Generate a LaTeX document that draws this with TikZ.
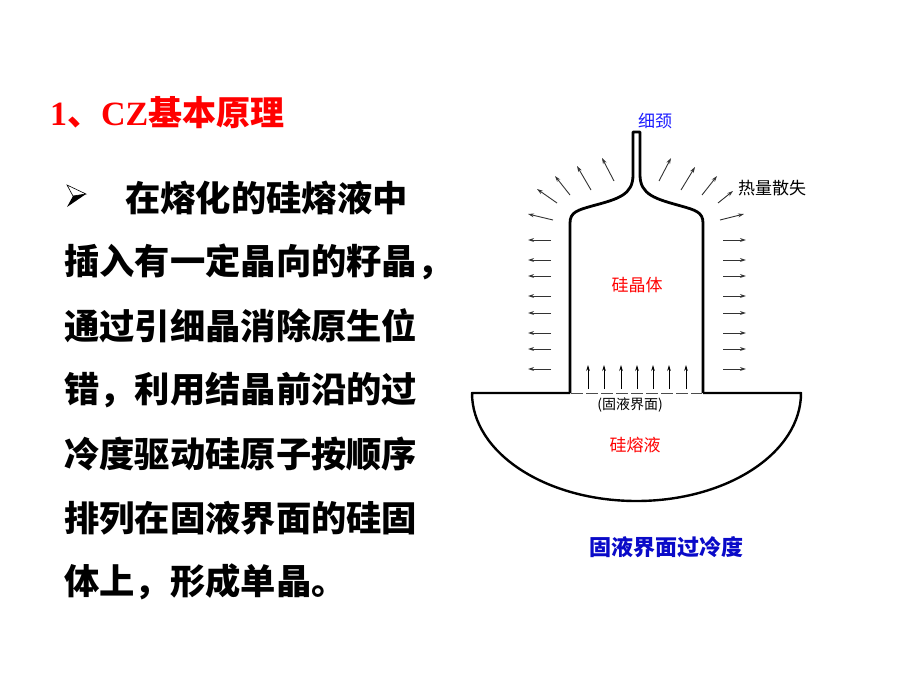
\documentclass[tikz,border=0pt]{standalone}
\usepackage{fontspec}
\setmainfont{Liberation Serif}
\newfontfamily\cjk{Noto Sans CJK SC}
\usetikzlibrary{arrows.meta}
\definecolor{capblue}{RGB}{10,10,200}
\definecolor{labblue}{RGB}{30,30,255}
\begin{document}
\begin{tikzpicture}[x=1pt,y=-1pt,
  bodytext/.style={anchor=west,inner sep=0pt,font=\cjk\bfseries\fontsize{35.3}{35.3}\selectfont,text=black},
  harr/.style={-{Stealth[length=6pt,width=3.8pt]},line width=0.9pt,black!80},
  uarr/.style={-{Stealth[length=6pt,width=3.6pt]},line width=0.9pt,black},
  outline/.style={line width=2.8pt,black,line join=round},
  lab/.style={inner sep=0pt,font=\cjk\fontsize{17}{17}\selectfont}]
\useasboundingbox (0,0) rectangle (920,690);
\fill[white] (0,0) rectangle (920,690);

% title
\node[anchor=west,inner sep=0pt,text=red,font=\bfseries\fontsize{34}{34}\selectfont] (title) at (50,113) {1{\cjk、}CZ{\cjk 基本原理}};

% bullet
\draw[line width=0.6pt,fill=white,line join=miter] (67,185) -- (86,194) -- (73,196) -- cycle;
\fill[black] (86,194) -- (73,196) -- (67,207) -- cycle;

% body text
\node[bodytext] (l1) at (125,198) {在熔化的硅熔液中};
\node[bodytext] (l2) at (64,262) {插入有一定晶向的籽晶，};
\node[bodytext] (l3) at (64,326) {通过引细晶消除原生位};
\node[bodytext] (l4) at (64,390) {错，利用结晶前沿的过};
\node[bodytext] (l5) at (64,454) {冷度驱动硅原子按顺序};
\node[bodytext] (l6) at (64,518) {排列在固液界面的硅固};
\node[bodytext] (l7) at (64,582) {体上，形成单晶。};

% crystal outline
\draw[outline] (570,393) -- (570,223)
  .. controls (570,212) and (578,210) .. (592,206)
  .. controls (618,199) and (633,195) .. (633,175)
  -- (633,132) -- (640,132) -- (640,175)
  .. controls (640,195) and (656,199) .. (681,206)
  .. controls (695,210) and (703,212) .. (703,223)
  -- (703,393);

% melt
\draw[line width=2.4pt,black,line join=round] (570,393) -- (472,393)
  arc[start angle=180,end angle=0,x radius=164.5,y radius=108] -- (703,393);
\draw[line width=0.7pt,black!70,dash pattern=on 12pt off 3pt] (571,393) -- (702,393);

% growth arrows
\foreach \x in {588,604,621,637,653,669,686}
  \draw[uarr] (\x,389) -- (\x,365);

% side arrows
\foreach \y in {240,260,276,296,313,333,349,369} {
  \draw[harr] (551,\y) -- (528,\y);
  \draw[harr] (723,\y) -- (746,\y);
}

% diagonal arrows
\draw[harr] (553,220) -- (528,214);
\draw[harr] (557,203) -- (537,189);
\draw[harr] (570,195) -- (555,176);
\draw[harr] (591,190) -- (577,166);
\draw[harr] (614,181) -- (602,158);
\draw[harr] (659,181) -- (671,158);
\draw[harr] (681,190) -- (695,167);
\draw[harr] (702,195) -- (717,176);
\draw[harr] (718,203) -- (733,191);
\draw[harr] (720,220) -- (744,214);

% labels
\node[lab,text=labblue] (neck) at (655,121) {细颈};
\node[lab,text=black] (heat) at (772,188) {热量散失};
\node[lab,text=red] (xtal) at (637,285) {硅晶体};
\node[lab,text=black,font=\cjk\fontsize{14}{14}\selectfont] (iface) at (630,405) {(固液界面)};
\node[lab,text=red] (melt) at (635,445) {硅熔液};
\node[inner sep=0pt,text=capblue,font=\cjk\bfseries\fontsize{22}{22}\selectfont] (cap) at (666,547) {固液界面过冷度};
\end{tikzpicture}
\end{document}
